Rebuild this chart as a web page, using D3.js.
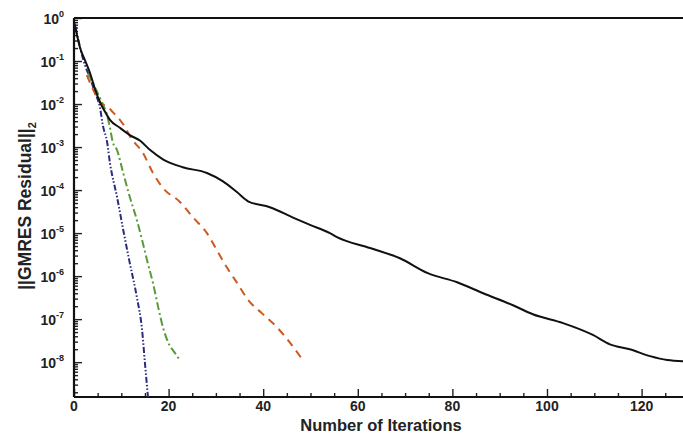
<!DOCTYPE html>
<html>
<head>
<meta charset="utf-8">
<script src="https://cdn.jsdelivr.net/npm/d3@7"></script>
<style>
  html, body { margin: 0; padding: 0; background: #fff; }
  svg { display: block; }
  text { font-family: "Liberation Sans", Arial, sans-serif; font-weight: bold; fill: #222; }
</style>
</head>
<body>
<svg id="chart" width="683" height="436"></svg>
<script>
// iterations / residuals
var blackIter = [0, 0.4, 1.3, 2.3, 3.4, 4.4, 5.5, 6.6, 7.6, 9.7, 11.8, 14, 16.1, 18.8, 23, 28.1, 31.5, 34.5, 36.8, 41.4, 46.3, 49.9, 54.1, 55.6, 62.6, 68.9, 74.8, 81, 86.5, 92.8, 97, 103.4, 109.7, 113.3, 117.5, 121.8, 125.4, 129];
var blackRes = [0.81, 0.52, 0.20, 0.105, 0.052, 0.023, 0.011, 6.5e-3, 4.3e-3, 2.8e-3, 1.9e-3, 1.4e-3, 8.5e-4, 5.2e-4, 3.4e-4, 2.5e-4, 1.6e-4, 8.9e-5, 5.5e-5, 4.0e-5, 2.3e-5, 1.55e-5, 1.0e-5, 8.1e-6, 4.5e-6, 2.6e-6, 1.17e-6, 7.2e-7, 4.0e-7, 2.1e-7, 1.3e-7, 8.1e-8, 4.3e-8, 2.6e-8, 2.0e-8, 1.38e-8, 1.12e-8, 1.05e-8];

var orangeIter = [2.7, 4.4, 5.5, 7.2, 8.2, 9.7, 10.8, 11.8, 14.6, 16.7, 18.8, 22.4, 25.2, 28.1, 30.2, 32.3, 34.5, 36.8, 39.7, 42.9, 45.7, 48.4];
var orangeRes = [0.047, 0.018, 0.011, 8.5e-3, 6.5e-3, 4.3e-3, 2.9e-3, 1.8e-3, 7.2e-4, 2.5e-4, 1.12e-4, 5.3e-5, 2.3e-5, 1.0e-5, 4.0e-6, 1.6e-6, 6.9e-7, 2.8e-7, 1.38e-7, 6.5e-8, 2.8e-8, 1.1e-8];

var greenIter = [3.0, 4.9, 5.9, 7.0, 7.6, 8.2, 9.1, 10.4, 11.8, 13.3, 14.4, 15.6, 16.7, 17.8, 18.8, 19.9, 21.4, 22.4];
var greenRes = [0.052, 0.019, 0.011, 5.5e-3, 2.8e-3, 1.3e-3, 8.5e-4, 2.5e-4, 6.9e-5, 2.0e-5, 6.9e-6, 2.0e-6, 6.9e-7, 1.9e-7, 6.5e-8, 2.9e-8, 1.6e-8, 1.1e-8];

var blueIter = [0.2, 0.6, 1.3, 2.3, 3.4, 4.4, 5.5, 6.1, 7.0, 7.6, 9.1, 10.4, 11.8, 13.3, 14.4, 15.0, 15.7];
var blueRes = [0.69, 0.45, 0.20, 0.081, 0.040, 0.019, 8.1e-3, 3.2e-3, 1.3e-3, 4.3e-4, 6.9e-5, 1.2e-5, 2.0e-6, 3.2e-7, 5.5e-8, 9.5e-9, 1.3e-9];

var xTicks = [0, 20, 40, 60, 80, 100, 120];
var yExp = [0, -1, -2, -3, -4, -5, -6, -7, -8];

var svg = d3.select("#chart");
var padL = 74, padT = 18, padB = 397;

var x = d3.scaleLinear().domain([0, 130]).range([padL, padL + 130 * 4.73]);
var y = d3.scaleLog().domain([1.55e-9, 1]).range([padB, padT]);

// minor ticks
var xMinor = d3.range(0, 131, 5).filter(function (v) { return xTicks.indexOf(v) < 0; });
var yMinor = [];
yExp.forEach(function (e) {
	for (var k = 2; k <= 9; k++) {
		var v = k * Math.pow(10, e - 1);
		if (v >= 1.55e-9 && v < 1) yMinor.push(v);
	}
});

var gx = svg.append("g").attr("transform", "translate(0," + padB + ")");
gx.call(d3.axisBottom(x).tickValues(xMinor).tickSize(-4).tickFormat(""));
gx.append("g").call(d3.axisBottom(x).tickValues(xTicks).tickSize(-8).tickFormat(""));
gx.selectAll(".domain").remove();
gx.selectAll("line").attr("stroke", "#222").attr("stroke-width", 1.4);

var gy = svg.append("g").attr("transform", "translate(" + padL + ",0)");
gy.call(d3.axisLeft(y).tickValues(yMinor).tickSize(-4).tickFormat(""));
gy.append("g").call(d3.axisLeft(y).tickValues(yExp.map(function (e) { return Math.pow(10, e); })).tickSize(-8).tickFormat(""));
gy.selectAll(".domain").remove();
gy.selectAll("line").attr("stroke", "#222").attr("stroke-width", 1.4);

// frame
svg.append("line").attr("x1", padL).attr("x2", 683).attr("y1", padT).attr("y2", padT)
	.attr("stroke", "#111").attr("stroke-width", 2.2);
svg.append("line").attr("x1", padL).attr("x2", 683).attr("y1", padB).attr("y2", padB)
	.attr("stroke", "#111").attr("stroke-width", 2.2);
svg.append("line").attr("x1", padL).attr("x2", padL).attr("y1", padT).attr("y2", padB)
	.attr("stroke", "#111").attr("stroke-width", 2.2);

// tick labels
svg.selectAll(".xl").data(xTicks).enter().append("text")
	.attr("x", function (d) { return x(d); })
	.attr("y", 411)
	.attr("text-anchor", "middle")
	.style("font-size", "14px")
	.text(function (d) { return d; });

var yl = svg.selectAll(".yl").data(yExp).enter().append("text")
	.attr("x", 64)
	.attr("y", function (d) { return y(Math.pow(10, d)) + 6; })
	.attr("text-anchor", "end")
	.style("font-size", "14px");
yl.append("tspan").text("10");
yl.append("tspan").attr("dy", -7).style("font-size", "9px").text(function (d) { return d; });

// axis titles
svg.append("text").attr("x", 381).attr("y", 431).attr("text-anchor", "middle")
	.style("font-size", "16.5px").text("Number of Iterations");
var yt = svg.append("text").attr("transform", "translate(31,206) rotate(-90)")
	.attr("text-anchor", "middle").style("font-size", "17.5px");
yt.append("tspan").text("||GMRES Residual||");
yt.append("tspan").attr("dy", 5).style("font-size", "11px").text("2");

// curves
svg.append("clipPath").attr("id", "clip").append("rect")
	.attr("x", padL).attr("y", padT).attr("width", 683 - padL).attr("height", padB - padT);

var line = d3.line()
	.curve(d3.curveMonotoneX)
	.x(function (d) { return x(d[0]); })
	.y(function (d) { return y(d[1]); });

function draw(iter, res, color, dash) {
	svg.append("path")
		.datum(d3.zip(iter, res))
		.attr("clip-path", "url(#clip)")
		.attr("fill", "none")
		.attr("stroke", color)
		.attr("stroke-width", 2)
		.attr("stroke-dasharray", dash)
		.attr("d", line);
}

draw(blueIter, blueRes, "#2c2c7c", "6,2,1.5,2,1.5,2");
draw(greenIter, greenRes, "#5b9a3c", "8,3,2,3");
draw(orangeIter, orangeRes, "#cc5a1e", "8,6");
draw(blackIter, blackRes, "#111", null);
</script>
</body>
</html>
